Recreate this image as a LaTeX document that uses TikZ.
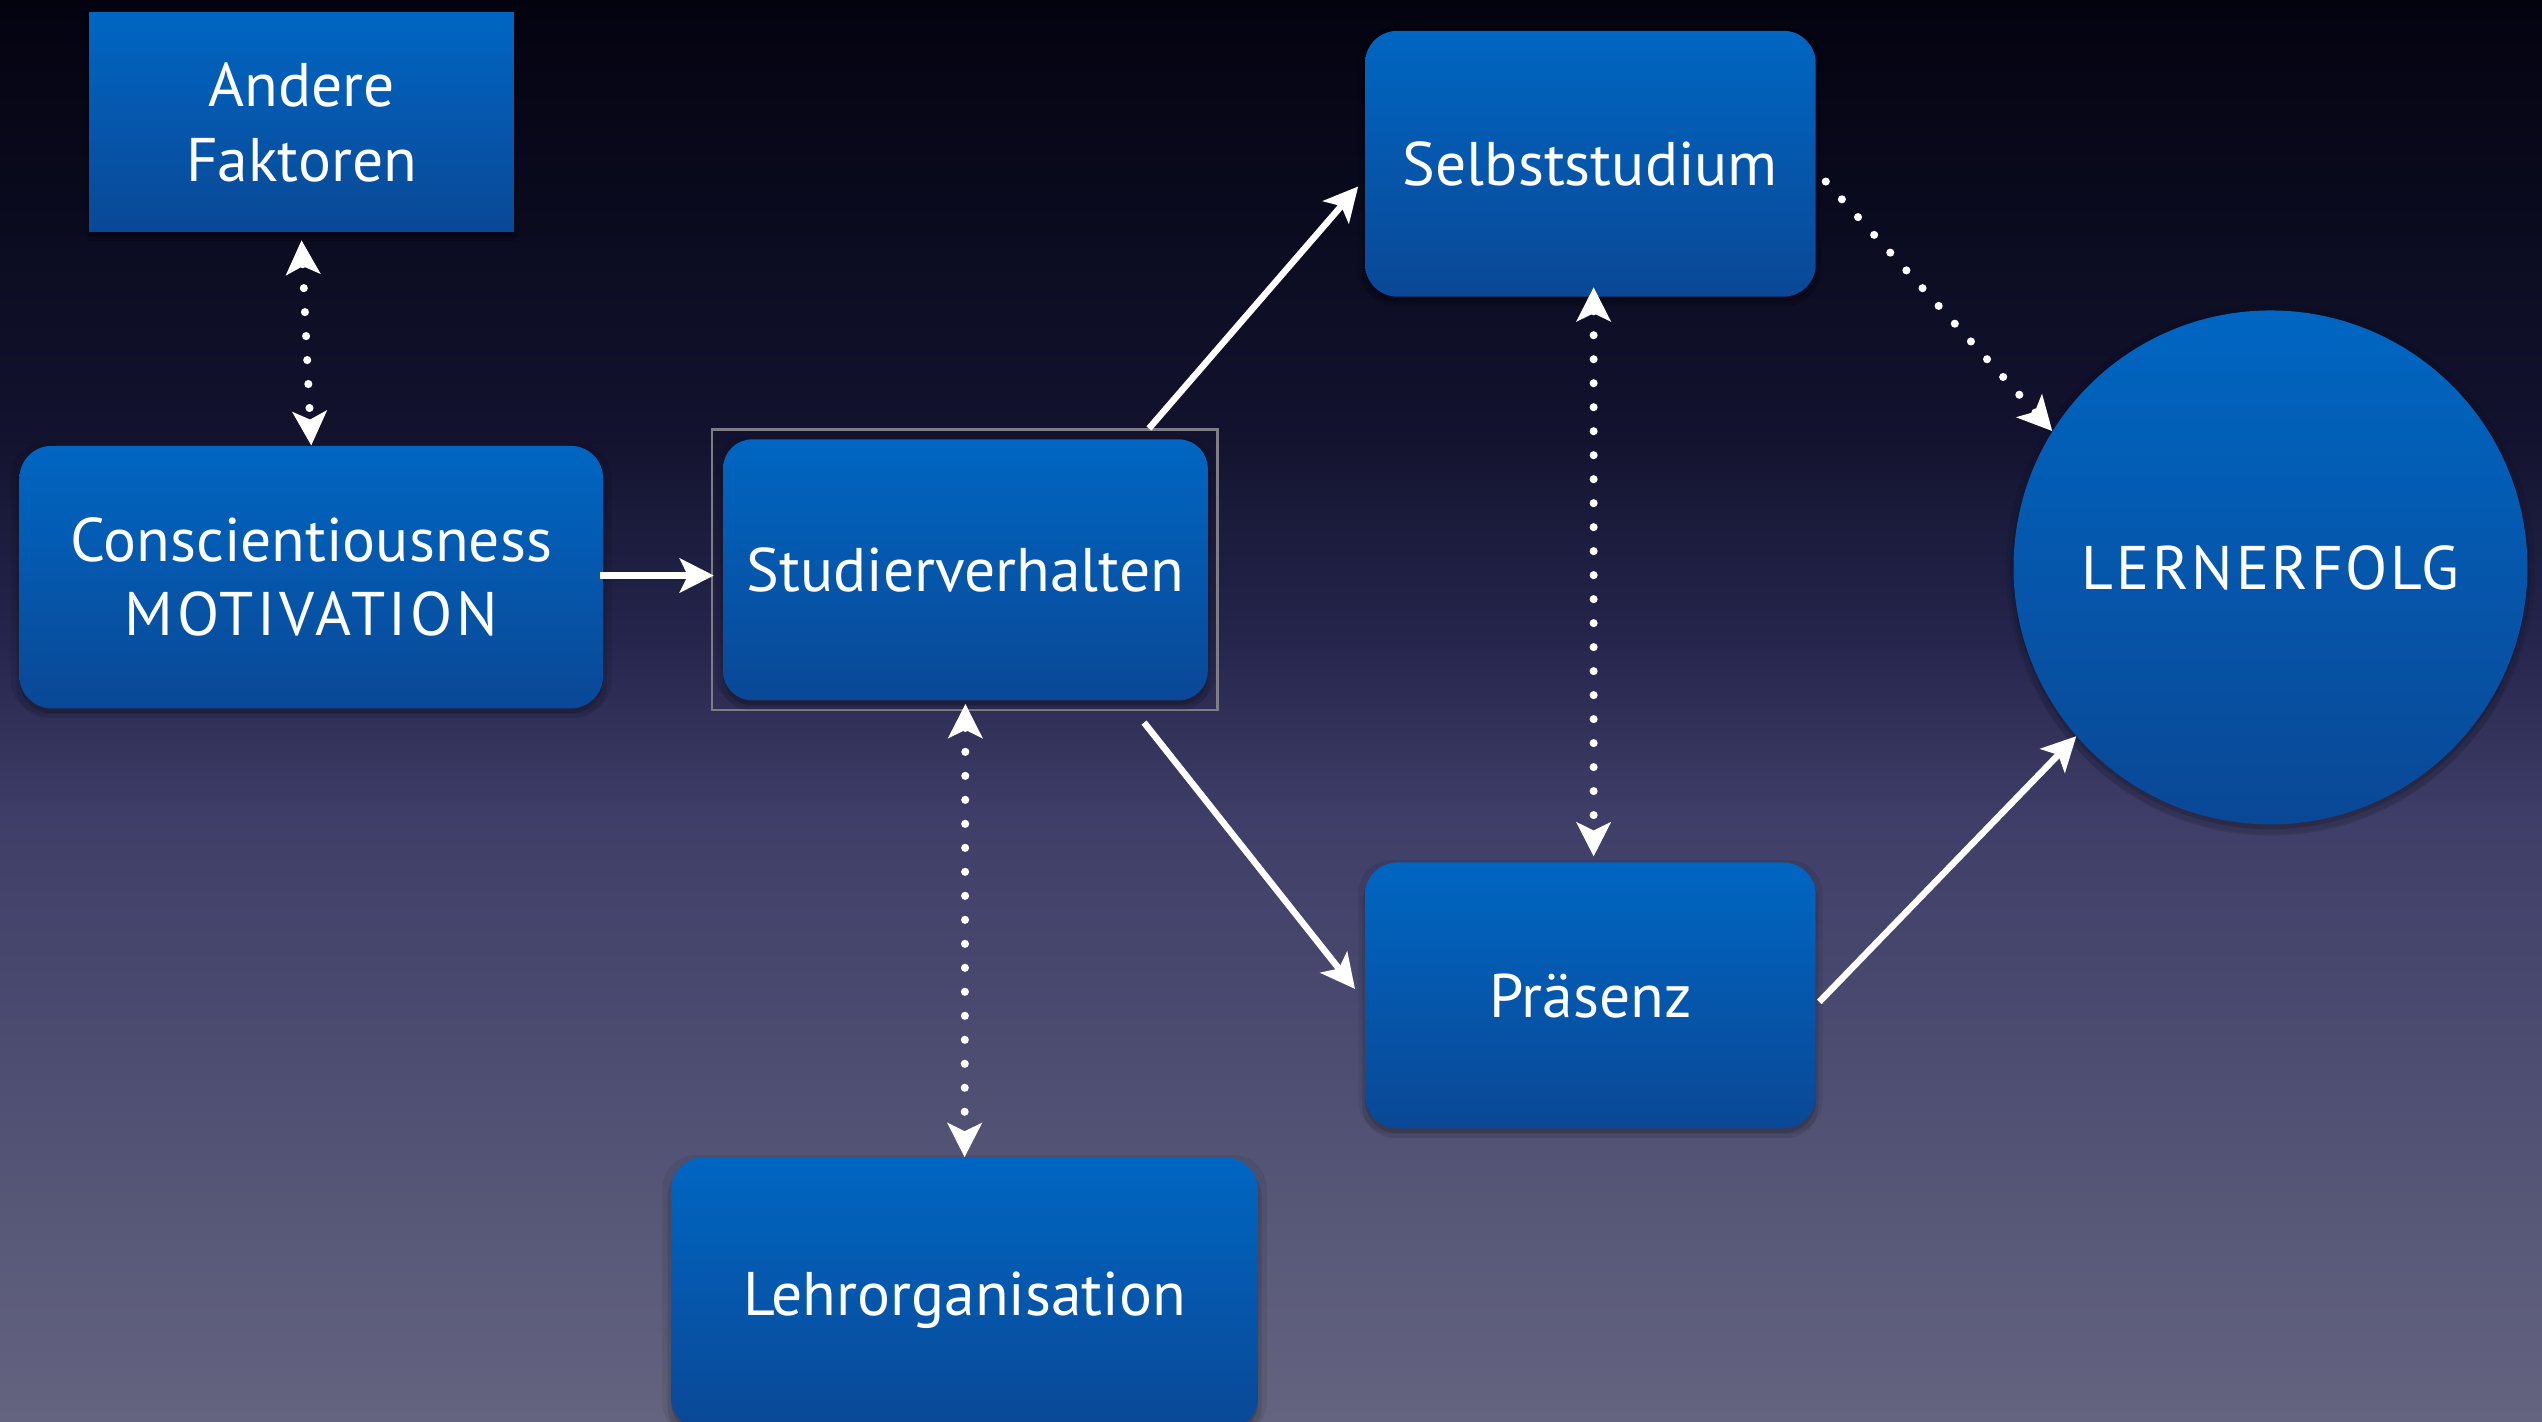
\documentclass[tikz,border=0pt]{standalone}
\usepackage{fontspec}
\setmainfont{PT Sans}
\usetikzlibrary{arrows.meta,shadows,calc}
\definecolor{bgtop}{RGB}{3,3,16}
\definecolor{bgq}{RGB}{18,18,46}
\definecolor{bgmid}{RGB}{38,38,78}
\definecolor{bglow}{RGB}{62,62,104}
\definecolor{bgbot}{RGB}{100,100,128}
\definecolor{boxtop}{RGB}{0,102,194}
\definecolor{boxbot}{RGB}{10,72,150}
\definecolor{framegray}{RGB}{125,125,132}
\pgfdeclareverticalshading{bgshade}{100bp}{color(0bp)=(bgbot); color(25bp)=(bgbot); color(46.2bp)=(bglow); color(52.2bp)=(bgmid); color(60bp)=(bgq); color(75bp)=(bgtop); color(100bp)=(bgtop)}
\begin{document}
\begin{tikzpicture}[x=1pt,y=-1pt,
  txt/.style={text=white,font=\fontsize{38}{46}\selectfont,align=center,inner sep=0pt},
  oneline/.style={text height=31pt,text depth=4pt},
  boxshade/.style={top color=boxtop,bottom color=boxbot,draw=none},
  soft/.style={
    drop shadow={shadow xshift=0pt,shadow yshift=-1pt,shadow scale=1.03,opacity=0.07,fill=black},
    drop shadow={shadow xshift=0pt,shadow yshift=-5pt,shadow scale=1.012,opacity=0.1,fill=black},
    drop shadow={shadow xshift=0pt,shadow yshift=-3pt,opacity=0.14,fill=black}},
  rbox/.style={txt,boxshade,soft,rounded corners=20pt},
  sbox/.style={txt,boxshade,soft},
  solidarrow/.style={draw=white,line width=4pt,-{Stealth[length=21pt,width=21pt,inset=5pt]}},
  dotline/.style={draw=white,line width=5pt,line cap=round,dash pattern=on 0pt off 14.8pt},
  dotarrow/.style={dotline,-{Stealth[length=21pt,width=21pt,inset=5pt]}},
  dotboth/.style={dotline,{Stealth[length=21pt,width=21pt,inset=5pt]}-{Stealth[length=21pt,width=21pt,inset=5pt]}}
]
\useasboundingbox (0,0) rectangle (1568,877);
\clip (0,0) rectangle (1568,877);
\shade[shading=bgshade] (0,0) rectangle (1568,877);

\node[sbox,minimum width=262pt,minimum height=135pt] (af) at (186,75.5) {Andere\\Faktoren};
\node[rbox,minimum width=360pt,minimum height=162pt] (consc) at (192,356) {Conscientiousness\\{\addfontfeature{LetterSpace=6}MOTIVATION}};
\node[draw=framegray,line width=1.4pt,minimum width=312pt,minimum height=173pt,inner sep=0pt] (studframe) at (595,351.5) {};
\node[rbox,oneline,rounded corners=18pt,minimum width=299pt,minimum height=161pt] (stud) at (595.5,351.5) {Studierverhalten};
\node[rbox,oneline,minimum width=278pt,minimum height=164pt] (selbst) at (981,101) {Selbststudium};
\node[rbox,oneline,minimum width=278pt,minimum height=164pt] (praes) at (981,614) {Präsenz};
\node[txt,oneline,boxshade,soft,circle,minimum size=317pt] (lern) at (1400.5,350) {\addfontfeature{LetterSpace=4.5}LERNERFOLG};
\node[rbox,oneline,minimum width=362pt,minimum height=168pt] (lehr) at (595,798) {Lehrorganisation};

\draw[dotboth] ($(af.south)+(0,5)$) -- (consc.north);
\draw[solidarrow] ($(consc.east)+(-2,-1)$) -- ($(studframe.west |- consc.east)+(2,-1)$);
\draw[solidarrow] ($(studframe.north east)+(-43,0)$) -- ($(selbst.west)+(-4,14)$);
\draw[solidarrow] ($(studframe.south east)+(-46,7)$) -- ($(praes.west)+(-6,-4)$);
\draw[solidarrow] ($(praes.east)+(2,4)$) -- (lern.221);
\draw[dotarrow] ($(selbst.east)+(6,11)$) -- (lern.148);
\draw[dotboth] ($(selbst.south)+(2,-6)$) -- ($(praes.north)+(2,-3.5)$);
\draw[dotboth] ($(stud.south)+(0,2)$) -- (lehr.north);
\end{tikzpicture}
\end{document}
